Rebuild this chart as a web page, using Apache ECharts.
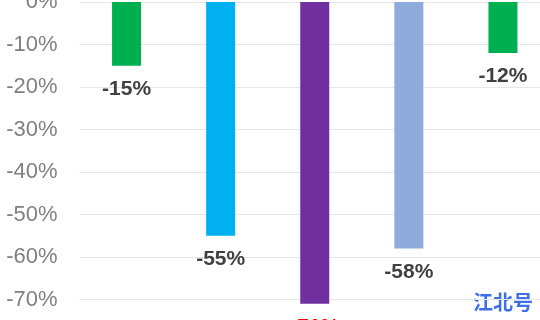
<!DOCTYPE html>
<html>
<head>
<meta charset="utf-8">
<script src="https://cdn.jsdelivr.net/npm/echarts@6/dist/echarts.min.js"></script>
<style>html,body{margin:0;padding:0;background:#fff;}#c{width:540px;height:320px;}</style>
</head>
<body>
<div id="c"></div>
<script>
var categories = ['A', 'B', 'C', 'D', 'E'];
var values = [-15, -55, -71, -58, -12];
var barColors = ['#00b050', '#00b0f0', '#7030a0', '#8faadc', '#00b050'];
var labelColors = ['#404040', '#404040', '#ff0000', '#404040', '#404040'];
var watermark = '江北号';

var chart = echarts.init(document.getElementById('c'));
chart.setOption({
  animation: false,
  grid: { left: 79.5, top: 2, width: 470.5, height: 340, outerBoundsMode: 'none' },
  xAxis: {
    type: 'category', data: categories, position: 'top',
    axisLine: { show: false }, axisTick: { show: false }, axisLabel: { show: false }
  },
  yAxis: {
    type: 'value', min: -80, max: 0, interval: 10,
    axisLine: { show: false }, axisTick: { show: false },
    axisLabel: { formatter: function (v) { return v + '%'; }, color: '#808080', fontSize: 22, fontFamily: 'Liberation Sans', margin: 22 },
    splitLine: { lineStyle: { color: '#e6e6e6', width: 1 } }
  },
  series: [{
    type: 'bar', barWidth: 29,
    data: values.map(function (v, i) {
      return { value: v, itemStyle: { color: barColors[i] }, label: { color: labelColors[i] } };
    }),
    label: {
      show: true, position: 'bottom', distance: 13,
      formatter: function (p) { return p.value + '%'; },
      fontSize: 21, fontWeight: 'bold', fontFamily: 'Liberation Sans'
    }
  }],
  graphic: [{
    type: 'text', right: 7, bottom: 8,
    style: { text: watermark, fill: '#3d70e6', fontSize: 20, fontWeight: 'bold', fontFamily: 'Noto Sans CJK SC' }
  }]
});
</script>
</body>
</html>
